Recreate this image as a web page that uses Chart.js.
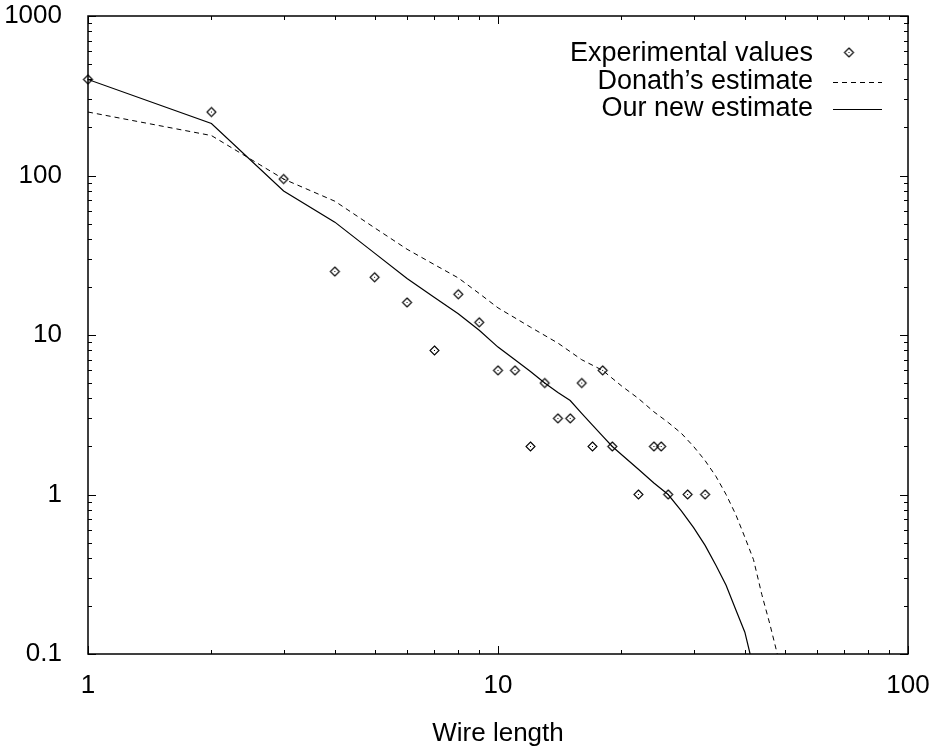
<!DOCTYPE html>
<html>
<head>
<meta charset="utf-8">
<style>
  html, body { margin: 0; padding: 0; background: #fff; }
</style>
<script src="https://cdn.jsdelivr.net/npm/chart.js@4.4.1/dist/chart.umd.min.js"></script>
</head>
<body>
<canvas id="chart" width="935" height="752"></canvas>
<script>
// experimental points
const expLength = [1, 2, 3, 4, 5, 6, 7, 8, 9, 10, 11, 12, 13, 14, 15, 16, 17, 18, 19, 22, 24, 25, 26, 29, 32];
const expCount = [400, 250, 95, 25, 23, 16, 8, 18, 12, 6, 6, 2, 5, 3, 3, 5, 2, 6, 2, 1, 2, 2, 1, 1, 1];

// Donath's estimate (dashed)
const donathLength = [1, 2, 3, 4, 5, 6, 7, 8, 9, 10, 11, 12, 14, 16, 18, 20, 22, 24, 26, 28, 30, 32, 34, 36, 38, 40, 42, 44, 46, 48];
const donathCount = [250, 178, 95, 69, 47, 34.5, 27.6, 22.8, 18.2, 14.8, 12.8, 11.2, 8.9, 7, 6, 4.8, 4, 3.3, 2.83, 2.42, 2, 1.63, 1.3, 1, 0.75, 0.54, 0.39, 0.236, 0.155, 0.1];

// our new estimate (solid)
const newLength = [1, 2, 3, 4, 5, 6, 7, 8, 9, 10, 11, 12, 13, 14, 15, 16, 17, 18, 19, 20, 22, 24, 26, 28, 30, 32, 34, 36, 38, 40, 41.2];
const newCount = [400, 212, 80, 51, 32.6, 22.6, 17.2, 13.6, 10.7, 8.4, 7, 5.9, 5, 4.36, 3.88, 3.23, 2.72, 2.32, 2, 1.78, 1.44, 1.18, 1, 0.79, 0.62, 0.48, 0.36, 0.27, 0.19, 0.137, 0.1];

const xTickValues = [1, 10, 100];
const xTickLabels = ['1', '10', '100'];
const yTickValues = [0.1, 1, 10, 100, 1000];
const yTickLabels = ['0.1', '1', '10', '100', '1000'];

const FONT = '"Liberation Sans", Arial, Helvetica, sans-serif';

function toPoints(xs, ys) {
    return xs.map((x, i) => ({ x: x, y: ys[i] }));
}

// gnuplot style diamond with a dot in the middle
function makeDiamond() {
    const c = document.createElement('canvas');
    c.width = 13;
    c.height = 13;
    const g = c.getContext('2d');
    g.strokeStyle = '#000';
    g.lineWidth = 1.1;
    g.beginPath();
    g.moveTo(6.5, 2);
    g.lineTo(11, 6.5);
    g.lineTo(6.5, 11);
    g.lineTo(2, 6.5);
    g.closePath();
    g.stroke();
    g.fillStyle = '#000';
    g.fillRect(6, 6, 1, 1);
    return c;
}
const diamond = makeDiamond();

// drop the extra room Chart.js keeps for labels hanging over the ends
function noOverhang(s) {
    s.paddingLeft = 0;
    s.paddingRight = 0;
    s.paddingTop = 0;
    s.paddingBottom = 0;
}

// frame + inward ticks on all four sides
const framePlugin = {
    id: 'frame',
    afterDraw(chart) {
        const ctx = chart.ctx;
        const a = chart.chartArea;
        const xs = chart.scales.x;
        const ys = chart.scales.y;
        ctx.save();
        ctx.strokeStyle = '#000';
        ctx.lineWidth = 1;

        function tickList(first, last) {
            const out = [];
            for (let d = first; d < last * 1.0001; d *= 10) {
                out.push({ v: d, major: true });
                if (d < last * 0.9999) {
                    for (let k = 2; k <= 9; k++) out.push({ v: d * k, major: false });
                }
            }
            return out;
        }

        ctx.beginPath();
        tickList(1, 100).forEach(t => {
            const px = Math.round(xs.getPixelForValue(t.v)) + 0.5;
            const len = t.major ? 8 : 4;
            ctx.moveTo(px, a.bottom);
            ctx.lineTo(px, a.bottom - len);
            ctx.moveTo(px, a.top);
            ctx.lineTo(px, a.top + len);
        });
        tickList(0.1, 1000).forEach(t => {
            const py = Math.round(ys.getPixelForValue(t.v)) + 0.5;
            const len = t.major ? 8 : 4;
            ctx.moveTo(a.left, py);
            ctx.lineTo(a.left + len, py);
            ctx.moveTo(a.right, py);
            ctx.lineTo(a.right - len, py);
        });
        ctx.stroke();

        ctx.lineWidth = 1.5;
        ctx.strokeRect(a.left, a.top, a.right - a.left, a.bottom - a.top);
        ctx.restore();
    }
};

// key in the top right corner: text right aligned, sample to its right
const keyPlugin = {
    id: 'key',
    afterDraw(chart) {
        const ctx = chart.ctx;
        const a = chart.chartArea;
        const textRight = a.right - 95;
        const sampleLeft = a.right - 75;
        const sampleRight = a.right - 26;
        const rows = [a.top + 38, a.top + 66, a.top + 93];
        ctx.save();
        ctx.font = '27px ' + FONT;
        ctx.fillStyle = '#000';
        ctx.textAlign = 'right';
        ctx.textBaseline = 'middle';
        chart.data.datasets.forEach((ds, i) => {
            ctx.fillText(ds.label, textRight, rows[i]);
            if (i === 0) {
                ctx.drawImage(diamond, a.right - 59 - 6.5, rows[i] - 8);
            } else {
                ctx.strokeStyle = '#000';
                ctx.lineWidth = ds.borderWidth;
                ctx.setLineDash(ds.borderDash || []);
                ctx.beginPath();
                ctx.moveTo(sampleLeft, rows[i] + 0.5);
                ctx.lineTo(sampleRight, rows[i] + 0.5);
                ctx.stroke();
            }
        });
        ctx.restore();
    }
};

const ctx = document.getElementById('chart').getContext('2d');
new Chart(ctx, {
    type: 'scatter',
    data: {
        datasets: [
            {
                label: 'Experimental values',
                data: toPoints(expLength, expCount),
                pointStyle: diamond,
                pointRadius: 4,
                showLine: false,
                clip: false
            },
            {
                label: 'Donath\u2019s estimate',
                data: toPoints(donathLength, donathCount),
                showLine: true,
                borderColor: '#000',
                borderWidth: 1,
                borderDash: [5, 4],
                pointRadius: 0,
                tension: 0
            },
            {
                label: 'Our new estimate',
                data: toPoints(newLength, newCount),
                showLine: true,
                borderColor: '#000',
                borderWidth: 1.2,
                pointRadius: 0,
                tension: 0
            }
        ]
    },
    options: {
        responsive: false,
        animation: false,
        events: [],
        layout: { padding: { top: 16, right: 27, left: 0, bottom: 0 } },
        plugins: {
            legend: { display: false },
            tooltip: { enabled: false }
        },
        scales: {
            x: {
                type: 'logarithmic',
                min: 1,
                max: 100,
                grid: { display: false },
                border: { display: false },
                afterBuildTicks: s => { s.ticks = xTickValues.map(v => ({ value: v })); },
                afterFit: s => { s.height = 98; noOverhang(s); },
                ticks: {
                    autoSkip: false,
                    maxRotation: 0,
                    padding: 8,
                    color: '#000',
                    font: { family: FONT, size: 26 },
                    callback: (v, i) => xTickLabels[i]
                },
                title: {
                    display: true,
                    text: 'Wire length',
                    color: '#000',
                    font: { family: FONT, size: 26 },
                    padding: { top: 0, bottom: 3 }
                }
            },
            y: {
                type: 'logarithmic',
                min: 0.1,
                max: 1000,
                grid: { display: false },
                border: { display: false },
                afterBuildTicks: s => { s.ticks = yTickValues.map(v => ({ value: v })); },
                afterFit: s => { s.width = 88; noOverhang(s); },
                ticks: {
                    autoSkip: false,
                    padding: 18,
                    color: '#000',
                    font: { family: FONT, size: 26 },
                    callback: (v, i) => yTickLabels[i]
                }
            }
        }
    },
    plugins: [framePlugin, keyPlugin]
});
</script>
</body>
</html>
